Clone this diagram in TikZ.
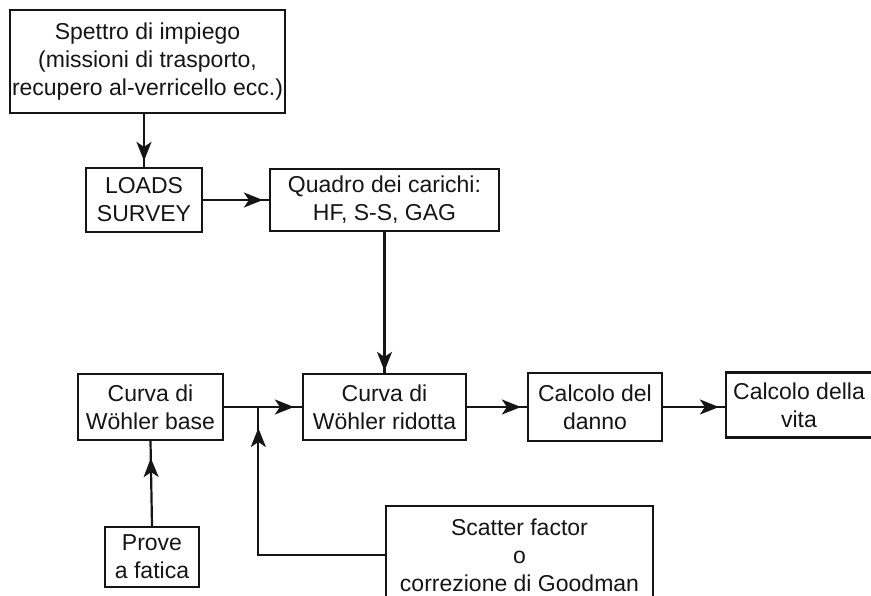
\documentclass[tikz,border=0pt]{standalone}
\usepackage{fontspec}
\setmainfont{Liberation Sans}
\usetikzlibrary{positioning, calc, arrows.meta, decorations.markings}
\definecolor{Ink}{HTML}{151515}
\tikzset{
    block/.style={rectangle, draw=Ink, line width=1.1pt, text=Ink, align=center, inner sep=1pt, font=\fontsize{11.5}{14}\selectfont},
    flow/.style={line width=1.1pt, draw=Ink, postaction={decorate},
        decoration={markings, mark=at position -#1 with {\arrow{Stealth[length=9.5pt, width=7.5pt, inset=2.5pt]}}}},
    flow/.default=3pt,
}

\begin{document}
\begin{tikzpicture}[x=0.5pt, y=-0.5pt]
    \useasboundingbox (0,0) rectangle (871,595);

    % --- 1. CARICHI ---
    \node[block, minimum width=135.5pt, minimum height=51.5pt] (spettro) at (147.5, 61.5)
        {Spettro di impiego\\(missioni di trasporto,\\recupero al-verricello ecc.)};
    \node[block, minimum width=58pt, minimum height=32pt] (loads) at (144, 200) {LOADS\\SURVEY};
    \node[block, minimum width=114.5pt, minimum height=31pt] (quadro) at (384.5, 200) {Quadro dei carichi:\\HF, S-S, GAG};

    % --- 2. CURVE DI WOEHLER ---
    \node[block, minimum width=72.5pt, minimum height=33pt] (base) at (150.5, 407) {Curva di\\Wöhler base};
    \node[block, minimum width=81.5pt, minimum height=33pt] (ridotta) at (384.5, 407) {Curva di\\Wöhler ridotta};
    \node[block, minimum width=47pt, minimum height=30pt] (prove) at (152, 557) {Prove\\a fatica};
    \node[block, minimum width=133.5pt, minimum height=49pt] (scatter) at (519.5, 555)
        {Scatter factor\\o\\correzione di Goodman};

    % --- 3. DANNO E VITA ---
    \node[block, minimum width=67pt, minimum height=34pt] (danno) at (595, 407) {Calcolo del\\danno};
    \node[block, minimum width=73pt, minimum height=32.5pt] (vita) at (799, 405) {Calcolo della\\vita};

    \coordinate (join) at ($(base.east)!0.44!(ridotta.west)$);

    % Frecce
    \draw[flow] (spettro.south -| loads.north) -- (loads.north);
    \draw[flow] (loads.east) -- (quadro.west);
    \draw[flow=1pt] (quadro.south) -- (ridotta.north);
    \draw[flow=4pt] (base.east) -- (ridotta.west);
    \draw[flow=10.5pt] (scatter.west) -| (join);
    \draw[flow=8.5pt] (prove.north) -- (base.south);
    \draw[flow] (ridotta.east) -- (danno.west);
    \draw[flow] (danno.east) -- (danno.east -| vita.west);
\end{tikzpicture}
\end{document}
